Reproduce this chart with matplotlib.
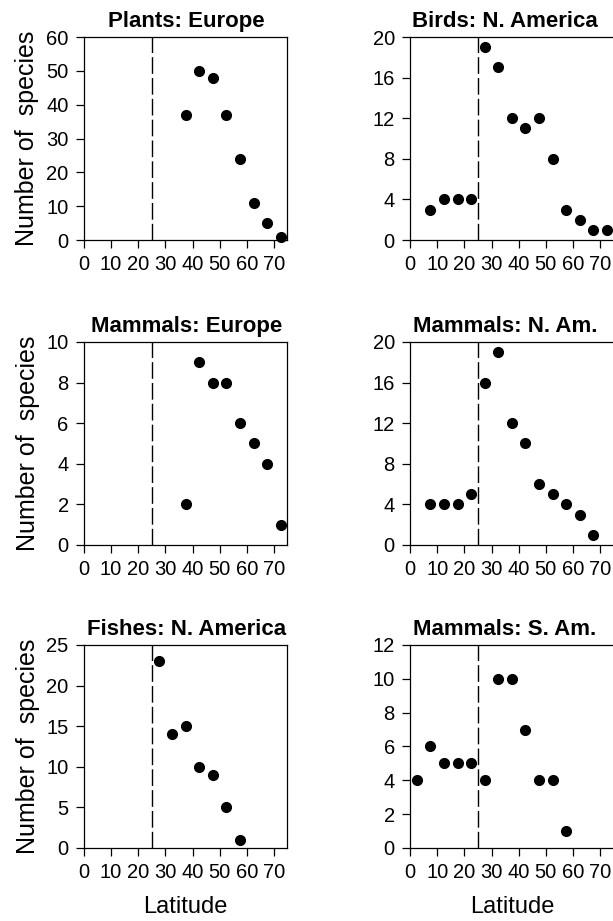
import matplotlib
matplotlib.use('Agg')
import matplotlib.pyplot as plt

plt.rcParams['font.family'] = ['Liberation Sans', 'DejaVu Sans']

# latitude band midpoints (degrees)
plants_eu_lat = [37.5, 42.5, 47.5, 52.5, 57.5, 62.5, 67.5, 72.5]
plants_eu_n = [37, 50, 48, 37, 24, 11, 5, 1]

birds_na_lat = [7.5, 12.5, 17.5, 22.5, 27.5, 32.5, 37.5, 42.5, 47.5, 52.5, 57.5, 62.5, 67.5, 72.5]
birds_na_n = [3, 4, 4, 4, 19, 17, 12, 11, 12, 8, 3, 2, 1, 1]

mammals_eu_lat = [37.5, 42.5, 47.5, 52.5, 57.5, 62.5, 67.5, 72.5]
mammals_eu_n = [2, 9, 8, 8, 6, 5, 4, 1]

mammals_na_lat = [7.5, 12.5, 17.5, 22.5, 27.5, 32.5, 37.5, 42.5, 47.5, 52.5, 57.5, 62.5, 67.5]
mammals_na_n = [4, 4, 4, 5, 16, 19, 12, 10, 6, 5, 4, 3, 1]

fishes_na_lat = [27.5, 32.5, 37.5, 42.5, 47.5, 52.5, 57.5]
fishes_na_n = [23, 14, 15, 10, 9, 5, 1]

mammals_sa_lat = [2.5, 7.5, 12.5, 17.5, 22.5, 27.5, 32.5, 37.5, 42.5, 47.5, 52.5, 57.5]
mammals_sa_n = [4, 6, 5, 5, 5, 4, 10, 10, 7, 4, 4, 1]

titles = ["Plants: Europe", "Birds: N. America", "Mammals: Europe",
          "Mammals: N. Am.", "Fishes: N. America", "Mammals: S. Am."]
y_ticks = [list(range(0, 61, 10)), list(range(0, 21, 4)), list(range(0, 11, 2)),
           list(range(0, 21, 4)), list(range(0, 26, 5)), list(range(0, 13, 2))]
x_ticks = list(range(0, 71, 10))
cutoff_lat = 25

series = [(plants_eu_lat, plants_eu_n), (birds_na_lat, birds_na_n),
          (mammals_eu_lat, mammals_eu_n), (mammals_na_lat, mammals_na_n),
          (fishes_na_lat, fishes_na_n), (mammals_sa_lat, mammals_sa_n)]

fig = plt.figure(figsize=(6.13, 9.21), dpi=100)

lefts = [0.137, 0.669]
bottoms = [0.7394, 0.4083, 0.0793]
w, h = 0.332, 0.2204
title_x = [0.505, 0.466]  # right column titles sit a bit left of centre

for i, (lat, n) in enumerate(series):
    row, col = divmod(i, 2)
    ax = fig.add_axes([lefts[col], bottoms[row], w, h])
    ax.plot(lat, n, 'o', color='black', markersize=7, clip_on=False, zorder=3)
    ax.axvline(cutoff_lat, color='black', lw=1.0, dashes=(12, 3))
    ax.set_xlim(0, 75)
    ax.set_ylim(0, y_ticks[i][-1])
    ax.set_xticks(x_ticks)
    ax.set_yticks(y_ticks[i])
    ax.tick_params(direction='out', length=6, width=0.9, labelsize=14.5, pad=5)
    for s in ax.spines.values():
        s.set_linewidth(0.9)
    ax.set_title(titles[i], fontsize=16, fontweight='bold', pad=7, x=title_x[col])
    if col == 0:
        ax.set_ylabel("Number of  species", fontsize=18, labelpad=5)
    if row == 2:
        ax.set_xlabel("Latitude", fontsize=17, labelpad=10)

plt.savefig('out.png', dpi=100)
